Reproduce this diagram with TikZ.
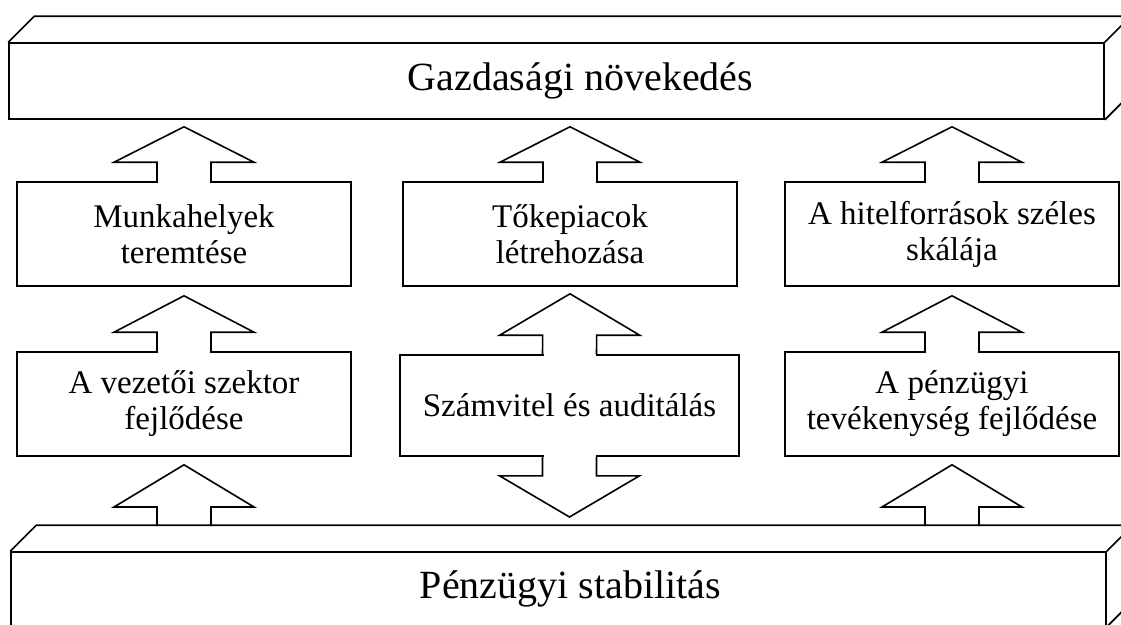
\documentclass[tikz,border=0pt]{standalone}
\usepackage{fontspec}
\setmainfont{Liberation Serif}
\usetikzlibrary{calc}
% block arrow from the foot of its shaft (#1) to its tip (#2)
\newcommand{\blockarrow}[2]{%
  \coordinate (ft) at #1; \coordinate (tp) at #2;
  \coordinate (hb) at ($(ft)!19pt!(tp)$);
  \fill[white] ($(ft)+(-26,-2)$) rectangle ($(ft)+(26,2)$);
  \draw ($(ft)+(-27,0)$) -- ($(hb)+(-27,0)$) -- ($(hb)+(-70,0)$) -- (tp)
    -- ($(hb)+(70,0)$) -- ($(hb)+(27,0)$) -- ($(ft)+(27,0)$);
}
\begin{document}
\begin{tikzpicture}[x=1pt, y=-1pt, line width=1.6pt, line join=miter,
  box/.style={draw, minimum width=334pt, minimum height=104pt, inner sep=0pt,
    align=center, font=\fontsize{33}{36}\selectfont},
  slab/.style={draw, minimum width=1095pt, inner sep=0pt},
  slabtext/.style 2 args={label={[xshift=#2, font=\fontsize{40}{44}\selectfont]center:#1}}]
  \useasboundingbox (0,0) rectangle (1121,624);
  \clip (0,0) rectangle (1121,624);
  % top slab
  \node[slab, minimum height=76pt, slabtext={Gazdasági növekedés}{24pt}] (gaz) at (556.5,81) {};
  \draw (gaz.north west) -- ++(26,-26) -- ($(gaz.north east)+(26,-26)$) -- (gaz.north east)
    ($(gaz.north east)+(26,-26)$) -- ($(gaz.south east)+(26,-26)$) -- (gaz.south east);
  % boxes
  \node[box] (mun) at (184,234) {Munkahelyek\\teremtése};
  \node[box] (tok) at (570,234) {Tőkepiacok\\létrehozása};
  \node[box] (hit) at (952,234) {A hitelforrások széles\\skálája};
  \node[box] (vez) at (184,404) {A vezetői szektor\\fejlődése};
  \node[box, minimum width=339pt, minimum height=101pt] (szv) at (569.5,405.5) {Számvitel és auditálás};
  \node[box] (pen) at (952,404) {A pénzügyi\\tevékenység fejlődése};
  % arrows
  \foreach \a in {mun, tok, hit}
    \blockarrow{(\a.north)}{($(\a.north |- gaz.south)+(0,7)$)};
  \blockarrow{(vez.north)}{($(mun.south)+(0,9)$)};
  \blockarrow{(pen.north)}{($(hit.south)+(0,9)$)};
  \blockarrow{(szv.north)}{($(tok.south)+(0,7)$)};
  \blockarrow{(szv.south)}{($(szv.south |- 0,517)$)};
  \blockarrow{($(vez.south |- 0,526)$)}{($(vez.south)+(0,8)$)};
  \blockarrow{($(pen.south |- 0,526)$)}{($(pen.south)+(0,8)$)};
  % bottom slab
  \node[slab, minimum height=74pt, slabtext={Pénzügyi stabilitás}{12pt}] (sta) at (558.5,589) {};
  \draw (sta.north west) -- ++(26,-26) -- ($(sta.north east)+(26,-26)$) -- (sta.north east)
    ($(sta.north east)+(26,-26)$) -- ($(sta.south east)+(26,-26)$) -- (sta.south east);
\end{tikzpicture}
\end{document}
